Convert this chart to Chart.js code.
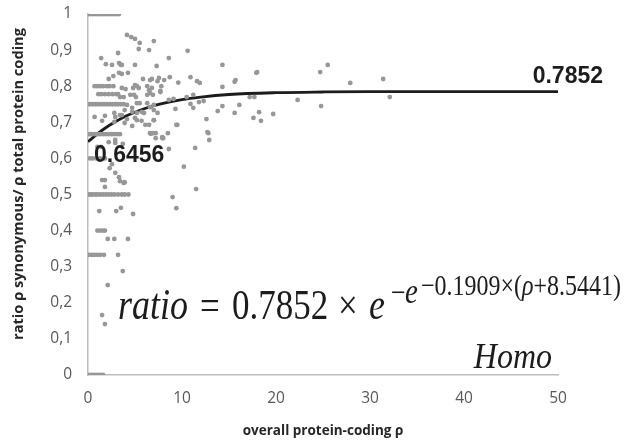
<!DOCTYPE html>
<html><head><meta charset="utf-8">
<script src="https://cdn.jsdelivr.net/npm/chart.js@4"></script>
<style>html,body{margin:0;padding:0;background:#fff}#wrap{width:628px;height:446px}</style>
</head><body><div id="wrap"><canvas id="c" width="628" height="446"></canvas></div>
<script>
// ratio rows (values that repeat at low rho)
const rowValues = [1, 0.8, 0.778, 0.75, 0.667, 0.6, 0.5, 0.4, 0.333, 0];
const rowX = [
  [0.1,0.3,0.5,0.7,0.9,1.1,1.3,1.5,1.7,1.9,2.1,2.3,2.5,2.7,2.9,3.1,3.3],
  [0.7,1.0,1.3,1.6,2.0,2.3,2.7],
  [1.1,1.4,1.8,2.2,2.6,3.0],
  [0.2,0.5,0.8,1.1,1.4,1.7,2.0,2.3,2.6,2.9,3.2,3.5,3.8],
  [0.2,0.4,0.7,1.0,1.3,1.6,1.9,2.2,2.5,2.8,3.1,3.4],
  [0.2,0.5,0.9,1.3,1.8],
  [0.1,0.3,0.5,0.8,1.0,1.3,1.6,1.9,2.2,2.5,2.8,3.2,3.6,3.9,4.3],
  [1.0,1.3,1.6,1.8],
  [0.1,0.4,0.7,1.0,1.3,1.7,3.2],
  [0.1,0.4,0.7,1.0,1.3,1.6]
];
// scattered genes [rho, ratio]
const scatterPoints = [
  [4.15,0.942],[4.6,0.936],[5.0,0.931],[5.5,0.92],[7.0,0.925],
  [3.2,0.892],[5.4,0.903],[6.5,0.9],[10.6,0.898],[1.4,0.878],[8.6,0.878],
  [1.9,0.861],[2.55,0.859],[3.3,0.864],[3.5,0.859],[3.6,0.859],[5.0,0.859],[7.3,0.856],[14.3,0.859],
  [3.3,0.837],[3.6,0.834],[4.25,0.837],[2.7,0.828],[2.2,0.82],
  [5.85,0.82],[6.6,0.817],[6.8,0.82],[8.7,0.825],[9.6,0.81],[10.9,0.825],[11.6,0.814],[11.9,0.809],[7.4,0.814],[7.55,0.823],[8.1,0.817],
  [3.6,0.795],[4.0,0.792],[4.8,0.795],[5.4,0.795],[6.3,0.8],[6.8,0.795],[7.8,0.8],[5.0,0.803],[5.2,0.8],[6.5,0.789],[7.7,0.787],[6.6,0.781],
  [3.2,0.778],[3.4,0.77],[4.5,0.776],[5.1,0.77],[6.3,0.776],[6.9,0.776],[7.7,0.784],[3.8,0.77],[4.9,0.776],
  [5.5,0.753],[6.3,0.753],[6.6,0.742],[4.15,0.748],[5.2,0.753],[7.0,0.748],
  [3.9,0.734],[4.7,0.74],[5.2,0.726],[5.7,0.729],[4.7,0.729],[5.96,0.726],[7.0,0.734],
  [0.7,0.715],[1.8,0.718],[2.9,0.715],[3.4,0.72],[2.8,0.726],[3.6,0.72],
  [4.15,0.709],[5.0,0.712],[5.7,0.704],[1.5,0.704],[2.8,0.701],[3.9,0.698],[5.2,0.706],[6.1,0.693],[7.0,0.706],
  [4.7,0.69],[6.5,0.693],[6.6,0.67],[7.2,0.67],[8.0,0.656],[9.5,0.693],
  [12.6,0.709],[12.8,0.67],
  [2.9,0.643],[3.7,0.64],[1.0,0.632],[1.4,0.632],[6.7,0.668],[7.2,0.656],[7.9,0.656],[2.2,0.645],[2.9,0.651],
  [2.55,0.584],[2.3,0.573],[2.9,0.56],[1.8,0.54],[3.3,0.548],[3.4,0.537],[3.8,0.532],[3.9,0.534],[1.8,0.521],[1.5,0.54],
  [1.2,0.454],[3.0,0.454],[3.5,0.463],[4.8,0.446],
  [9.0,0.493],[9.4,0.462],[10.2,0.577],[11.5,0.515],
  [2.1,0.377],[2.8,0.377],[4.25,0.377],
  [3.7,0.288],[2.1,0.249],[1.5,0.166],[1.8,0.141],
  [8.6,0.762],[9.1,0.765],[10.5,0.77],[11.2,0.776],[10.9,0.751],[11.2,0.74],[11.8,0.756],[12.3,0.759],[9.3,0.737],
  [14.3,0.745],[16.1,0.748],[13.8,0.731],[15.6,0.726],[17.2,0.77],[17.7,0.77],[17.6,0.712],[18.2,0.728],[18.4,0.704],[19.7,0.723],
  [9.4,0.693],[8.5,0.67],[12.7,0.673],[12.9,0.651],[8.6,0.626],[11.4,0.629],
  [14.3,0.798],[15.6,0.812],[15.7,0.817],[17.9,0.837],[18.0,0.839],
  [25.5,0.859],[24.7,0.839],[27.9,0.809],[31.4,0.82],[32.1,0.77],[22.3,0.762],[24.8,0.745],
  [7.4,0.726],[7.0,0.706],[7.9,0.659],[6.9,0.67]
];
// fitted curve
const fitX = [0,1,2,3,4,5,7,10,12,15,20,25,30,40,50];
const fitY = [0.646,0.668,0.687,0.703,0.717,0.728,0.746,0.763,0.770,0.777,0.782,0.784,0.785,0.785,0.785];
const yTickLabels = ['0','0,1','0,2','0,3','0,4','0,5','0,6','0,7','0,8','0,9','1'];

const pts = [];
rowValues.forEach((v, i) => rowX[i].forEach(x => pts.push({x: x, y: v})));
scatterPoints.forEach(p => pts.push({x: p[0], y: p[1]}));
const fit = fitX.map((x, i) => ({x: x, y: fitY[i]}));

const textPlugin = {
  id: 'texts',
  afterDraw(chart) {
    const ctx = chart.ctx;
    ctx.save();
    ctx.fillStyle = '#1c1c1c';
    ctx.textBaseline = 'alphabetic';
    ctx.font = 'bold 23px "Liberation Sans", Arial, sans-serif';
    ctx.textAlign = 'right';
    ctx.fillText('0.7852', 603, 83);
    ctx.textAlign = 'left';
    ctx.fillText('0.6456', 94, 162);
    // y title
    ctx.save();
    ctx.fillStyle = '#262626';
    const yt = 'ratio ρ synonymous/ ρ total protein coding';
    ctx.font = 'bold 13px "Open Sans", sans-serif';
    const w = ctx.measureText(yt).width;
    const fs = 13 * 312 / w;
    ctx.font = 'bold ' + fs.toFixed(2) + 'px "Open Sans", sans-serif';
    ctx.translate(19, 184);
    ctx.rotate(-Math.PI / 2);
    ctx.textAlign = 'center';
    ctx.textBaseline = 'middle';
    ctx.fillText(yt, 0, 0);
    ctx.restore();
    // formula
    const serif = '"Liberation Serif", "Times New Roman", serif';
    const piece = (txt, x, base, size, italic, sy) => {
      ctx.save();
      ctx.translate(x, base);
      ctx.scale(1, sy);
      ctx.font = (italic ? 'italic ' : '') + size + 'px ' + serif;
      ctx.textAlign = 'left';
      ctx.fillText(txt, 0, 0);
      const ww = ctx.measureText(txt).width;
      ctx.restore();
      return x + ww;
    };
    const S = 1.22;
    piece('ratio', 118, 319, 36, true, S);
    piece('=', 200, 319, 35, false, S);
    piece('0.7852', 232, 319, 35, false, S);
    piece('×', 338, 319, 35, false, S);
    piece('e', 369, 319, 36, true, S);
    piece('−', 391, 303, 26, false, S);
    piece('e', 405, 303, 29, true, S);
    let x = piece('−0.1909×(', 421, 295, 24, false, S);
    x = piece('ρ', x, 295, 24, true, S);
    piece('+8.5441)', x, 295, 24, false, S);
    // species
    ctx.save();
    ctx.translate(552, 368);
    ctx.scale(1, 1.1);
    ctx.font = 'italic 32px ' + serif;
    ctx.textAlign = 'right';
    ctx.fillText('Homo', 0, 0);
    ctx.restore();
    ctx.restore();
  }
};

new Chart(document.getElementById('c'), {
  type: 'scatter',
  data: {
    datasets: [
      {data: pts, backgroundColor: '#979797', borderWidth: 0, pointRadius: 2.4, pointHoverRadius: 2.4},
      {data: fit, showLine: true, borderColor: '#1c1c1c', borderWidth: 2.8, pointRadius: 0, fill: false,
       tension: 0.4, cubicInterpolationMode: 'monotone'}
    ]
  },
  options: {
    responsive: false,
    animation: false,
    devicePixelRatio: 1,
    layout: {padding: {left: 0, right: 70, top: 14, bottom: 0}},
    plugins: {legend: {display: false}, tooltip: {enabled: false}},
    scales: {
      x: {
        type: 'linear', min: 0, max: 50,
        afterFit: s => { s.height = 71; s.paddingLeft = 0; s.paddingRight = 0; },
        grid: {display: false, drawTicks: false},
        border: {display: true, color: '#bdbdbd', width: 1.5},
        ticks: {stepSize: 10, padding: 14, color: '#595959', font: {family: '"Open Sans", sans-serif', size: 15.5}},
        title: {display: true, text: 'overall protein-coding ρ', color: '#262626',
                font: {family: '"Open Sans", sans-serif', size: 13.5, weight: 'bold'}, padding: {top: 4, bottom: 7}}
      },
      y: {
        type: 'linear', min: 0, max: 1,
        afterFit: s => { s.width = 88; s.paddingTop = 0; s.paddingBottom = 0; },
        grid: {display: false, drawTicks: false},
        border: {display: true, color: '#bdbdbd', width: 1.5},
        ticks: {stepSize: 0.1, padding: 16, color: '#595959', font: {family: '"Open Sans", sans-serif', size: 15.5},
                callback: (v, i) => yTickLabels[i]}
      }
    }
  },
  plugins: [textPlugin]
});
</script>
</body></html>
